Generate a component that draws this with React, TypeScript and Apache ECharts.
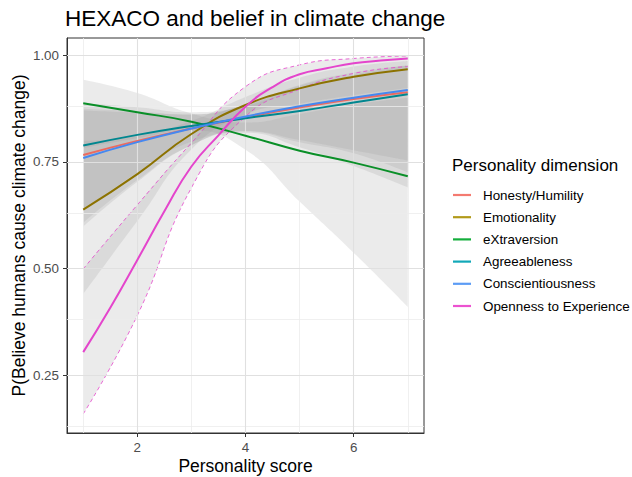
import React, { useEffect, useRef } from "react";
import * as echarts from "echarts";

const xs = [1, 2, 3, 4, 5, 6, 7];
const xsFine = [1, 1.5, 2, 2.5, 3, 3.5, 4, 4.5, 5, 5.5, 6, 6.5, 7];

const seriesNames = [
  "Honesty/Humility",
  "Emotionality",
  "eXtraversion",
  "Agreeableness",
  "Conscientiousness",
  "Openness to Experience",
];
const lineColors = ["#EC6A5F", "#8C7200", "#0A8F28", "#00868F", "#4688F0", "#E445CC"];
const legendColors = ["#F47A70", "#B29A1A", "#14AE3C", "#12A8B8", "#5C9CF5", "#EC52D0"];

const honestyMid = [0.766, 0.799, 0.828, 0.854, 0.877, 0.897, 0.913];
const honestyLow = [0.607, 0.707, 0.789, 0.821, 0.796, 0.77, 0.725];
const honestyHigh = [0.874, 0.868, 0.861, 0.883, 0.928, 0.957, 0.975];

const emotionMid = [0.638, 0.721, 0.815, 0.883, 0.922, 0.949, 0.967];
const emotionLow = [0.44, 0.611, 0.779, 0.861, 0.886, 0.906, 0.923];
const emotionHigh = [0.799, 0.81, 0.846, 0.902, 0.947, 0.973, 0.986];

const extraMid = [0.887, 0.866, 0.844, 0.811, 0.776, 0.748, 0.716];
const extraLow = [0.782, 0.805, 0.823, 0.778, 0.657, 0.537, 0.41];
const extraHigh = [0.942, 0.911, 0.863, 0.842, 0.862, 0.884, 0.9];

const agreeMid = [0.788, 0.813, 0.834, 0.852, 0.869, 0.889, 0.908];
const agreeLow = [0.636, 0.725, 0.797, 0.818, 0.784, 0.74, 0.69];
const agreeHigh = [0.887, 0.878, 0.866, 0.881, 0.923, 0.954, 0.975];

const conscMid = [0.759, 0.796, 0.828, 0.856, 0.88, 0.9, 0.918];
const conscLow = [0.598, 0.703, 0.789, 0.822, 0.801, 0.777, 0.753];
const conscHigh = [0.87, 0.865, 0.861, 0.884, 0.93, 0.959, 0.976];

const opennessMid = [0.304, 0.408, 0.52, 0.634, 0.739, 0.812, 0.879, 0.925, 0.955, 0.969, 0.981, 0.987, 0.992];
const opennessLow = [0.159, 0.39, 0.689, 0.856, 0.92, 0.957, 0.973];
const opennessHigh = [0.499, 0.649, 0.794, 0.926, 0.977, 0.992, 0.998];

const xTicks = [2, 4, 6];
const xMinor = [1, 3, 5, 7];
const yTicks = [0.25, 0.5, 0.75, 1.0];
const yMinor = [0.125, 0.375, 0.625, 0.875];

const FONT = "Liberation Sans, Arial, sans-serif";

export default function App() {
  const ref = useRef<HTMLDivElement>(null);

  useEffect(() => {
    if (!ref.current) return;
    const chart = echarts.init(ref.current, null, { renderer: "svg" });

    const mids = [honestyMid, emotionMid, extraMid, agreeMid, conscMid];
    const lows = [honestyLow, emotionLow, extraLow, agreeLow, conscLow, opennessLow];
    const highs = [honestyHigh, emotionHigh, extraHigh, agreeHigh, conscHigh, opennessHigh];

    const bandColor = "rgba(150,150,150,0.19)";
    const series: any[] = [];

    // grid lines
    const major = { color: "#e0e0e0", width: 1.1, type: "solid" };
    const minor = { color: "#ececec", width: 0.8, type: "solid" };
    series.push({
      name: "_grid",
      type: "line",
      data: [],
      z: 1,
      silent: true,
      markLine: {
        silent: true,
        symbol: ["none", "none"],
        label: { show: false },
        emphasis: { disabled: true },
        animation: false,
        data: [
          ...xMinor.map((v) => ({ xAxis: v, lineStyle: minor })),
          ...yMinor.map((v) => ({ yAxis: v, lineStyle: minor })),
          ...xTicks.map((v) => ({ xAxis: v, lineStyle: major })),
          ...yTicks.map((v) => ({ yAxis: v, lineStyle: major })),
        ],
      },
    });

    // bands (stacked on the y values; data given as [y, x] with encode)
    lows.forEach((low, k) => {
      const high = highs[k];
      series.push({
        name: "_bandLow" + k,
        type: "line",
        stack: "band" + k,
        data: xs.map((x, i) => [low[i], x]),
        encode: { x: 1, y: 0 },
        smooth: true,
        symbol: "none",
        silent: true,
        lineStyle: { opacity: 0 },
        z: 2,
      });
      series.push({
        name: "_bandDiff" + k,
        type: "line",
        stack: "band" + k,
        data: xs.map((x, i) => [high[i] - low[i], x]),
        encode: { x: 1, y: 0 },
        smooth: true,
        symbol: "none",
        silent: true,
        lineStyle: { opacity: 0 },
        areaStyle: { color: bandColor, opacity: 1 },
        z: 2,
      });
    });

    // Openness dashed bounds
    [opennessLow, opennessHigh].forEach((arr, j) => {
      series.push({
        name: "_openBound" + j,
        type: "line",
        data: xs.map((x, i) => [x, arr[i]]),
        smooth: true,
        symbol: "none",
        silent: true,
        lineStyle: { color: lineColors[5], width: 0.8, type: [4, 3] },
        z: 4,
      });
    });

    // main lines
    mids.forEach((mid, k) => {
      series.push({
        name: seriesNames[k],
        type: "line",
        data: xs.map((x, i) => [x, mid[i]]),
        smooth: true,
        symbol: "none",
        color: lineColors[k],
        lineStyle: { color: lineColors[k], width: 2 },
        z: 5,
      });
    });
    series.push({
      name: seriesNames[5],
      type: "line",
      data: xsFine.map((x, i) => [x, opennessMid[i]]),
      smooth: true,
      symbol: "none",
      color: lineColors[5],
      lineStyle: { color: lineColors[5], width: 2 },
      z: 6,
    });

    chart.setOption({
      animation: false,
      backgroundColor: "#ffffff",
      textStyle: { fontFamily: FONT },
      title: [
        {
          text: "HEXACO and belief in climate change",
          left: 65,
          top: 7,
          padding: 0,
          textStyle: { fontFamily: FONT, fontSize: 22.5, fontWeight: "normal", color: "#000" },
        },
        {
          text: "Personality dimension",
          left: 452,
          top: 157,
          padding: 0,
          textStyle: { fontFamily: FONT, fontSize: 17, fontWeight: "normal", color: "#000" },
        },
      ],
      legend: {
        data: seriesNames.map((n, i) => ({ name: n, itemStyle: { color: legendColors[i] } })),
        orient: "vertical",
        left: 453,
        top: 187,
        padding: 0,
        icon: "rect",
        itemWidth: 18,
        itemHeight: 2.2,
        itemGap: 6.2,
        selectedMode: false,
        textStyle: {
          fontFamily: FONT,
          fontSize: 13.4,
          color: "#000",
          lineHeight: 16,
          padding: [0, 0, 0, 7],
        },
      },
      grid: {
        left: 67,
        top: 38,
        right: 208,
        bottom: 44,
        show: true,
        backgroundColor: "#ffffff",
        borderColor: "#333333",
        borderWidth: 1,
        containLabel: false,
        outerBoundsMode: "none",
      },
      xAxis: {
        type: "value",
        min: 0.7,
        max: 7.3,
        name: "Personality score",
        nameLocation: "middle",
        nameGap: 24,
        nameMoveOverlap: false,
        nameTextStyle: { fontFamily: FONT, fontSize: 17.5, color: "#000" },
        axisLine: { show: true, lineStyle: { color: "#333333", width: 1 } },
        axisTick: { show: true, length: 4, customValues: xTicks, lineStyle: { color: "#333333" } },
        axisLabel: {
          customValues: xTicks,
          margin: 8,
          fontFamily: FONT,
          fontSize: 13.4,
          color: "#4d4d4d",
          formatter: (v: number) => String(v),
        },
        splitLine: { show: false },
      },
      yAxis: {
        type: "value",
        min: 0.1145,
        max: 1.04,
        name: "P(Believe humans cause climate change)",
        nameLocation: "middle",
        nameGap: 39,
        nameMoveOverlap: false,
        nameTextStyle: { fontFamily: FONT, fontSize: 17.5, color: "#000" },
        axisLine: { show: true, lineStyle: { color: "#333333", width: 1 } },
        axisTick: { show: true, length: 4, customValues: yTicks, lineStyle: { color: "#333333" } },
        axisLabel: {
          customValues: yTicks,
          margin: 8,
          fontFamily: FONT,
          fontSize: 13.4,
          color: "#4d4d4d",
          formatter: (v: number) => v.toFixed(2),
        },
        splitLine: { show: false },
      },
      series,
    });

    return () => chart.dispose();
  }, []);

  return (
    <div
      ref={ref}
      style={{ position: "fixed", left: 0, top: 0, width: 632, height: 477 }}
    />
  );
}
